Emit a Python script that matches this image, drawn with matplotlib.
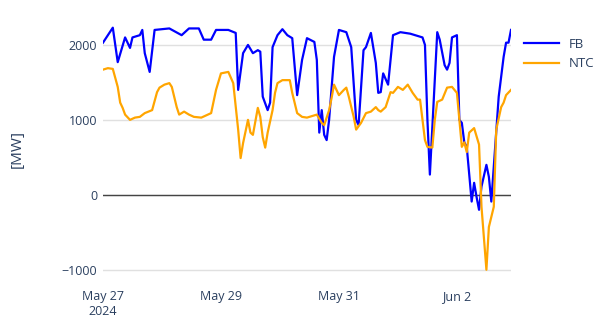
import matplotlib

matplotlib.use("Agg")

import matplotlib.pyplot as plt
import pandas as pd

start = pd.Timestamp("2024-05-27 00:00")

fb_hours = [0, 4, 6, 9, 11, 12, 15, 16, 17, 19, 21, 27, 32, 35, 39, 41, 44, 46, 51, 54,
            55, 57, 59, 61, 63, 64, 65, 67, 68, 69, 71, 73, 75, 77, 79, 81, 83, 86, 87, 88,
            89, 90, 91, 92, 94, 96, 99, 101, 103, 104, 106, 107, 109, 111, 112, 113, 114, 116, 118, 121,
            125, 130, 131, 132, 133, 134, 136, 137, 139, 140, 141, 142, 144, 145, 146, 147, 148, 150, 151, 152,
            153, 154, 156, 157, 158, 161, 163, 164, 165, 166]
fb_mw = [2030, 2230, 1770, 2100, 1960, 2100, 2130, 2200, 1890, 1640, 2200, 2220, 2130, 2220, 2220, 2070, 2070, 2200, 2200, 2160,
         1400, 1890, 2000, 1890, 1930, 1910, 1310, 1130, 1230, 1970, 2130, 2210, 2130, 2090, 1330, 1800, 2090, 2040, 1800, 830,
         1130, 800, 730, 1000, 1840, 2200, 2170, 1970, 1000, 930, 1930, 1970, 2160, 1760, 1360, 1370, 1620, 1470, 2130, 2170,
         2150, 2100, 2000, 1000, 270, 900, 2170, 2070, 1730, 1670, 1760, 2100, 2130, 1000, 960, 700, 640, -90, 160, -30,
         -200, 110, 400, 240, -90, 1310, 1840, 2030, 2030, 2200]

ntc_hours = [0, 2, 4, 6, 7, 8, 9, 11, 13, 15, 17, 20, 22, 23, 25, 27, 28, 30, 31, 33,
             35, 37, 40, 44, 46, 48, 51, 53, 55, 56, 57, 59, 60, 61, 63, 64, 65, 66, 67, 69,
             70, 71, 73, 76, 77, 79, 81, 83, 87, 89, 90, 92, 93, 94, 96, 98, 99, 100, 102, 103,
             105, 107, 109, 111, 112, 113, 115, 117, 118, 120, 122, 124, 126, 128, 129, 131, 132, 134, 135, 136,
             138, 140, 142, 144, 146, 147, 148, 149, 151, 153, 154, 156, 157, 159, 160, 162, 163, 164, 166]
ntc_mw = [1670, 1690, 1680, 1440, 1230, 1160, 1070, 1000, 1030, 1040, 1090, 1130, 1370, 1430, 1470, 1490, 1440, 1170, 1070, 1110,
          1070, 1040, 1030, 1090, 1400, 1620, 1640, 1490, 870, 490, 690, 1000, 830, 800, 1160, 1040, 770, 630, 830, 1130,
          1360, 1490, 1530, 1530, 1360, 1090, 1040, 1030, 1070, 960, 930, 1130, 1290, 1470, 1330, 1400, 1430, 1310, 1040, 870,
          960, 1090, 1110, 1170, 1130, 1110, 1170, 1370, 1360, 1440, 1400, 1470, 1360, 1270, 1270, 730, 640, 630, 1000, 1240,
          1270, 1430, 1440, 1360, 640, 700, 570, 830, 890, 670, -160, -1000, -430, -160, 870, 1170, 1230, 1330, 1400]

tick_dates = ["2024-05-27", "2024-05-29", "2024-05-31", "2024-06-02"]
tick_labels = ["May 27\n2024", "May 29", "May 31", "Jun 2"]
y_ticks = [-1000, 0, 1000, 2000]

text_color = "#2a3f5f"
plt.rcParams["font.family"] = ["Open Sans", "DejaVu Sans"]

fb_time = start + pd.to_timedelta(fb_hours, unit="h")
ntc_time = start + pd.to_timedelta(ntc_hours, unit="h")

fig = plt.figure(figsize=(5.98, 3.24), dpi=100)
ax = fig.add_axes([0.1722, 0.142, 0.6823, 0.798])

ax.plot(fb_time, fb_mw, color="#0000ff", linewidth=1.6, label="FB", zorder=3)
ax.plot(ntc_time, ntc_mw, color="#ffa500", linewidth=1.6, label="NTC", zorder=3)

ax.set_xlim(start, start + pd.Timedelta(hours=166))
ax.set_ylim(-1110, 2340)
ax.set_yticks(y_ticks)
ax.set_yticklabels(["\u22121000", "0", "1000", "2000"])
ax.set_xticks(pd.to_datetime(tick_dates))
ax.set_xticklabels(tick_labels)
ax.tick_params(axis="both", length=0, labelsize=9, colors=text_color, pad=4)
ax.tick_params(axis="x", pad=9)
ax.grid(axis="y", color="#e0e0e0", linewidth=1)
ax.axhline(0, color="#444444", linewidth=1, zorder=2)
for spine in ax.spines.values():
    spine.set_visible(False)

ax.set_ylabel("[MW]", color=text_color, fontsize=11, labelpad=27)

ax.legend(loc="upper left", bbox_to_anchor=(1.01, 0.965), frameon=False,
          fontsize=9.5, labelcolor=text_color, handlelength=2.6, borderaxespad=0.3,
          labelspacing=0.5)

fig.savefig("out.png", dpi=100)
plt.close(fig)
